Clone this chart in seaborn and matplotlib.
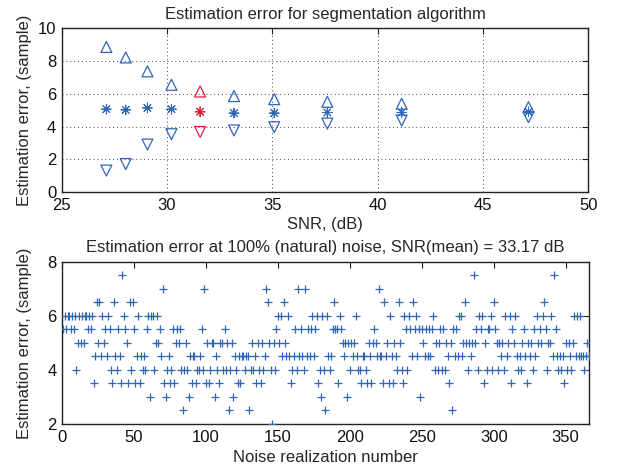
import numpy as np
import pandas as pd
import matplotlib
matplotlib.use("Agg")
import matplotlib.pyplot as plt
import seaborn as sns

# --- SNR sweep: upper bound, mean and lower bound of the estimation error ---
snr_db = [27.12, 28.04, 29.07, 30.21, 31.57, 33.18, 35.09, 37.61, 41.14, 47.16]
err_upper = [8.86, 8.22, 7.37, 6.55, 6.14, 5.86, 5.67, 5.51, 5.39, 5.18]
err_mean = [5.06, 5.02, 5.14, 5.06, 4.90, 4.82, 4.82, 4.86, 4.86, 4.90]
err_lower = [1.31, 1.71, 2.90, 3.53, 3.67, 3.76, 3.96, 4.18, 4.37, 4.57]
natural_noise = [False, False, False, False, True, False, False, False, False, False]

# --- error of every noise realization at 100% (natural) noise ---
realization_error = [
    5.5, 6, 5.5, 6, 6, 5.5, 6, 5.5, 6, 4, 5, 6, 5, 6, 5, 6, 6, 5.5, 6, 5.5,
    6, 3.5, 4.5, 6.5, 5, 6.5, 4.5, 6, 5, 5.5, 4.5, 6, 5.5, 4, 3.5, 6.5, 4.5, 4,
    5.5, 4.5, 3.5, 7.5, 6, 5.5, 5, 3.5, 6.5, 4, 6.5, 5.5, 3.5, 4.5, 6, 3.5,
    4.5, 4, 4.5, 4, 5.5, 6, 3, 6, 6, 4, 5, 6, 5, 5.5, 4.5, 7, 3.5, 3, 4, 4.5,
    3.5, 4, 5.5, 3.5, 5, 5.5, 5, 5.5, 4, 2.5,
    4, 5, 4, 3, 4.5, 3.5, 4.5, 4.5, 3.5, 4, 4, 4.5, 5.5, 4, 7, 3.5, 5, 3.5,
    4, 5, 5, 3, 4.5, 4, 3.5, 5, 5, 4, 5.5, 4, 5, 2.5, 4, 5, 3, 4.5, 4, 3.5,
    4.5, 3.5, 4.5, 4.5, 4, 4.5, 4.5, 2.5, 4, 5, 4, 4.5, 3.5, 5, 4, 3.5, 5, 4,
    4.5, 7, 6.5, 5, 4, 2, 5, 4, 5.5, 6, 5, 6, 4.5, 6.5, 5, 4.5, 6, 4.5, 3.5,
    4, 4.5, 5.5, 4, 7, 4.5,
    5.5, 4.5, 4, 7, 4.5, 5.5, 4.5, 5.5, 6, 4.5, 5.5, 6, 3.5, 4, 3, 6, 4, 2.5,
    6, 4.5, 4, 4.5, 5.5, 6.5, 5.5, 5.5, 3.5, 6, 5.5, 5, 4.5, 5, 3, 5, 4, 5,
    4.5, 5, 6, 4.5, 4,
    4, 3.5, 4.5, 4.5, 4, 3.5, 5, 4.5, 3.5, 5, 5.5, 5, 4.5, 7, 4.5, 4.5, 3.5,
    6.5, 4.5, 5, 3.5, 6, 4.5, 3.5, 5, 4.5, 4, 6.5, 5, 4, 3.5, 6, 5.5, 4, 6,
    5.5, 4.5, 6.5, 5.5, 6, 4.5, 5.5,
    3, 5.5, 5, 4.5, 5.5, 4.5, 5.5, 4.5, 5.5, 6, 4, 5, 4, 5, 5.5, 4, 5.5, 4,
    5, 4.5, 3.5, 5, 2.5, 5.5, 4.5, 5.5, 4.5, 6, 6, 4.5, 5, 6.5, 5, 4, 5, 4.5,
    5, 7.5, 5, 5.5, 4,
    6, 5.5, 6, 3.5, 5, 4, 5.5, 5.5, 6, 4, 6.5, 5.5, 5, 4, 5, 4.5, 5, 4, 6,
    4.5, 5, 6, 3.5, 5.5, 5, 6, 4.5, 4, 4.5, 4, 5, 5.5, 4.5, 3.5, 5, 4.5, 5, 4,
    5.5, 4.5, 6, 5,
    5.5, 5, 6, 6.5, 5.5, 4, 5, 5, 6, 4.5, 7.5, 5.5, 4.5, 4, 4.5, 4, 4.5, 3.5,
    5, 4, 5, 4.5, 4, 5, 6, 4.5, 6, 4.5, 6, 4.5, 4.5, 4, 4.5, 5, 4.5,
]
realization = np.arange(1, len(realization_error) + 1)

BLUE = "#2f65b7"
RED = "#dc1e3c"
FS = 12

sns.set_style("white")
plt.rcParams["font.family"] = ["Liberation Sans", "DejaVu Sans"]
plt.rcParams["font.size"] = FS

sweep = pd.DataFrame({
    "snr": snr_db,
    "upper": err_upper,
    "mean": err_mean,
    "lower": err_lower,
    "group": ["natural" if n else "scaled" for n in natural_noise],
})
palette = {"scaled": BLUE, "natural": RED}

noise = pd.DataFrame({"n": realization, "err": realization_error})

fig = plt.figure(figsize=(6.19, 4.72), dpi=100)
ax1 = fig.add_axes([0.0997, 0.5932, 0.8507, 0.3468])
ax2 = fig.add_axes([0.1002, 0.1017, 0.8508, 0.3439])


def style_axes(ax):
    for sp in ax.spines.values():
        sp.set_visible(True)
        sp.set_color("#222222")
        sp.set_linewidth(1.0)
    ax.tick_params(direction="in", length=4, width=0.8, color="#222222",
                   top=True, right=True, labelsize=FS, pad=4,
                   labelcolor="#111111")


# top panel: bounds and mean versus SNR
for col, marker in [("upper", "^"), ("lower", "v")]:
    sns.scatterplot(data=sweep, x="snr", y=col, hue="group", palette=palette,
                    marker=marker, s=62, facecolor="none", linewidth=0.9,
                    legend=False, ax=ax1, zorder=3)
    # hue colours go to the outline, triangles stay hollow
    coll = ax1.collections[-1]
    coll.set_edgecolors([palette[g] for g in sweep["group"]])
    coll.set_facecolors("none")

sns.scatterplot(data=sweep, x="snr", y="mean", hue="group", palette=palette,
                marker=(8, 2, 0), s=48, linewidth=0.7, legend=False, ax=ax1,
                zorder=3)
coll = ax1.collections[-1]
coll.set_edgecolors([palette[g] for g in sweep["group"]])

ax1.set_xlim(25, 50)
ax1.set_ylim(0, 10)
ax1.set_xticks([25, 30, 35, 40, 45, 50])
ax1.set_yticks([0, 2, 4, 6, 8, 10])
ax1.grid(True, linestyle=(0, (1, 3)), color="#444444", linewidth=0.7)
style_axes(ax1)
ax1.set_title("Estimation error for segmentation algorithm", fontsize=FS,
              pad=7)
ax1.set_xlabel("SNR, (dB)", fontsize=FS, labelpad=3)
ax1.set_ylabel("Estimation error, (sample)", fontsize=FS)

# bottom panel: per-realization error at natural noise
sns.scatterplot(data=noise, x="n", y="err", marker="+", s=40,
                color=BLUE, linewidth=0.9, legend=False, ax=ax2, zorder=3)
ax2.set_xlim(0, 366)
ax2.set_ylim(2, 8)
ax2.set_xticks(np.arange(0, 351, 50))
ax2.set_yticks([2, 4, 6, 8])
ax2.grid(False)
style_axes(ax2)
ax2.set_title("Estimation error at 100% (natural) noise, SNR(mean) = 33.17 dB",
              fontsize=FS, pad=7)
ax2.set_xlabel("Noise realization number", fontsize=FS, labelpad=4)
ax2.set_ylabel("Estimation error, (sample)", fontsize=FS)

# both y labels sit in the same column at the left margin
for ax in (ax1, ax2):
    ax.yaxis.set_label_coords(-0.057, 0.5)

fig.savefig("out.png", dpi=100)
